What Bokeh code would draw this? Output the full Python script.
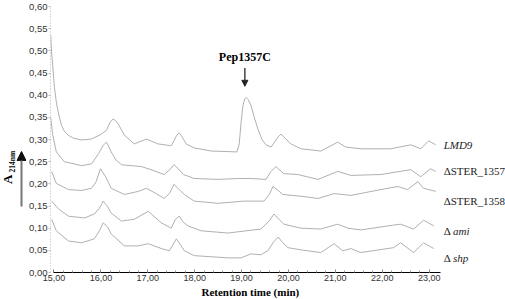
import numpy as np
from bokeh.plotting import figure
from bokeh.layouts import row
from bokeh.models import (Range1d, FixedTicker, CustomJSTickFormatter, Label, Arrow,
                          NormalHead, Title)
from bokeh.embed import file_html
from bokeh.resources import INLINE

# ---- data (retention time in min, absorbance) ----
time_lmd9 = [14.93,14.95,14.98,15.01,15.05,15.10,15.16,15.22,15.30,15.41,15.59,15.80,16.01,16.12,16.20,16.26,16.31,16.37,
             16.50,16.71,16.97,17.22,17.50,17.62,17.67,17.72,17.82,17.99,18.35,18.90,18.95,18.99,19.03,19.07,19.10,19.14,19.20,
             19.27,19.35,19.44,19.52,19.63,19.78,19.84,19.90,20.05,20.27,20.69,21.05,21.22,21.54,22.18,22.61,22.82,22.99,23.14]
abs_lmd9 = [0.535,0.495,0.457,0.417,0.384,0.357,0.332,0.319,0.310,0.303,0.299,0.301,0.312,0.321,0.340,0.346,0.343,0.335,
            0.310,0.290,0.301,0.290,0.286,0.310,0.315,0.308,0.290,0.281,0.274,0.272,0.290,0.339,0.377,0.392,0.395,0.390,0.377,
            0.350,0.323,0.299,0.288,0.283,0.306,0.312,0.306,0.290,0.279,0.274,0.294,0.283,0.279,0.279,0.288,0.279,0.297,0.288]

time_1357 = [14.93,14.97,15.05,15.22,15.59,15.80,15.95,16.05,16.12,16.22,16.32,16.44,16.86,17.07,17.35,17.47,
             17.56,17.65,17.76,17.99,18.50,18.93,19.20,19.52,19.63,19.73,19.90,20.20,20.63,21.05,21.33,21.97,
             22.61,22.82,23.03,23.14]
abs_1357 = [0.350,0.312,0.272,0.250,0.241,0.245,0.268,0.287,0.294,0.272,0.254,0.243,0.239,0.232,0.221,0.232,
            0.243,0.234,0.221,0.212,0.210,0.212,0.212,0.210,0.228,0.239,0.223,0.221,0.210,0.228,0.219,0.221,
            0.232,0.216,0.234,0.228]

time_1358 = [14.95,15.05,15.31,15.59,15.80,15.90,15.99,16.10,16.22,16.50,16.80,16.97,17.18,17.35,17.46,17.56,
             17.67,17.78,17.99,18.50,19.05,19.48,19.59,19.67,19.78,19.88,20.27,20.63,20.97,21.33,21.97,22.33,
             22.54,22.76,22.88,23.14]
abs_1358 = [0.228,0.201,0.187,0.185,0.190,0.205,0.234,0.216,0.190,0.176,0.183,0.190,0.178,0.167,0.178,0.199,
            0.187,0.176,0.161,0.156,0.161,0.161,0.176,0.194,0.185,0.176,0.172,0.167,0.178,0.174,0.187,0.194,
            0.187,0.205,0.190,0.183]

time_ami = [14.95,15.10,15.31,15.65,15.86,15.97,16.05,16.14,16.22,16.44,16.71,17.01,17.29,17.50,17.59,17.67,
            17.76,17.86,18.14,18.71,19.41,19.59,19.69,19.80,19.90,20.27,20.69,21.05,21.27,21.54,22.24,22.39,
            22.67,22.88,23.10]
abs_ami = [0.161,0.143,0.127,0.123,0.132,0.145,0.161,0.149,0.134,0.116,0.120,0.138,0.112,0.100,0.120,0.127,
           0.113,0.105,0.094,0.089,0.098,0.116,0.132,0.120,0.109,0.100,0.098,0.109,0.100,0.096,0.107,0.109,
           0.098,0.118,0.105]

time_shp = [14.95,15.05,15.31,15.59,15.86,15.97,16.05,16.14,16.22,16.50,16.80,17.01,17.29,17.46,17.61,17.78,
            17.99,18.71,18.99,19.20,19.41,19.56,19.67,19.78,19.88,19.99,20.27,20.69,20.97,21.16,21.33,21.54,
            22.24,22.39,22.67,22.88,23.10]
abs_shp = [0.120,0.094,0.071,0.067,0.076,0.094,0.112,0.103,0.087,0.060,0.060,0.065,0.054,0.049,0.076,0.049,
           0.038,0.033,0.033,0.042,0.040,0.049,0.067,0.080,0.067,0.056,0.051,0.045,0.065,0.049,0.054,0.045,
           0.056,0.067,0.045,0.067,0.054]

x_ticks = [15, 16, 17, 18, 19, 20, 21, 22, 23]
y_ticks = [0.00, 0.05, 0.10, 0.15, 0.20, 0.25, 0.30, 0.35, 0.40, 0.45, 0.50, 0.55, 0.60]
x_minor = [round(15 + 0.2 * i, 2) for i in range(1, 41)]

peak_name = "Pep1357C"
peak_time = 19.07
peak_abs = 0.395

strain_labels = [
    ([("LMD9", "italic")], 0.2865),
    ([("\u0394STER_1357", "normal")], 0.228),
    ([("\u0394STER_1358", "normal")], 0.1624),
    ([("\u0394", "normal"), ("ami", "italic")], 0.0925),
    ([("\u0394", "normal"), ("shp", "italic")], 0.0338),
]

series = [(time_lmd9, abs_lmd9), (time_1357, abs_1357), (time_1358, abs_1358),
          (time_ami, abs_ami), (time_shp, abs_shp)]

TOP, BOTTOM = 6, 27

# ---------- left strip: y-axis title with arrow ----------
pl = figure(width=26, height=299, output_backend="svg", toolbar_location=None,
            x_range=Range1d(0, 26), y_range=Range1d(0, 0.6),
            x_axis_location=None, y_axis_location=None,
            min_border_left=0, min_border_right=0, min_border_top=TOP, min_border_bottom=BOTTOM)
pl.grid.visible = False
pl.outline_line_color = None
pl.add_layout(Label(x=6.5, y=0.210, text="A", angle=np.pi / 2, text_align="center",
                    text_baseline="middle", text_font="Liberation Serif", text_font_style="bold",
                    text_font_size="13px", text_color="black"))
pl.add_layout(Label(x=11.8, y=0.2256, text="214nm", angle=np.pi / 2, text_align="left",
                    text_baseline="middle", text_font="Liberation Serif", text_font_style="bold",
                    text_font_size="7.5px", text_color="black"))
pl.add_layout(Arrow(end=NormalHead(size=9, fill_color="#111111", line_color="#111111"),
                    x_start=21, y_start=0.149, x_end=21, y_end=0.273,
                    line_color="#777777", line_width=2))

# ---------- main chromatogram panel ----------
p = figure(width=479, height=299, output_backend="svg", toolbar_location=None,
           x_range=Range1d(14.9255, 24.628), y_range=Range1d(0, 0.6),
           min_border_left=23, min_border_right=0, min_border_top=TOP, min_border_bottom=BOTTOM)
p.grid.visible = False
p.outline_line_color = None

for t, a in series:
    p.line(t, a, line_color="#b0b0b0", line_width=1, line_join="round")

fmt = CustomJSTickFormatter(code="return tick.toFixed(2).replace('.', ',');")

xa = p.xaxis[0]
xa.ticker = FixedTicker(ticks=x_ticks, minor_ticks=x_minor)
xa.formatter = fmt
xa.bounds = (15, 23.245)
xa.axis_line_color = "black"
xa.axis_line_width = 1
xa.major_tick_in = 3
xa.major_tick_out = 0
xa.minor_tick_in = 2
xa.minor_tick_out = 0
xa.major_tick_line_color = "#777777"
xa.minor_tick_line_color = "#999999"
xa.major_label_text_font = "Liberation Sans"
xa.major_label_text_font_size = "9px"
xa.major_label_text_color = "#333333"
xa.major_label_standoff = 2

ya = p.yaxis[0]
ya.ticker = FixedTicker(ticks=y_ticks)
ya.formatter = fmt
ya.bounds = (0, 0.6)
ya.axis_line_color = "#b5b5b5"
ya.axis_line_dash = "1 2"
ya.major_tick_out = 2
ya.major_tick_in = 0
ya.minor_tick_out = 0
ya.minor_tick_in = 0
ya.major_tick_line_color = "#bbbbbb"
ya.major_label_text_font = "Liberation Sans"
ya.major_label_text_font_size = "9.5px"
ya.major_label_text_color = "#333333"
ya.major_label_standoff = 1

p.add_layout(Title(text="Retention time (min)", align="left", offset=151, standoff=0,
                   text_font="Liberation Serif", text_font_style="bold",
                   text_font_size="11px", text_color="black"), "below")

# peak annotation
p.add_layout(Label(x=peak_time, y=peak_abs + 0.092, text=peak_name, text_align="center",
                   text_baseline="middle", text_font="Liberation Serif", text_font_style="bold",
                   text_font_size="12px", text_color="black"))
p.add_layout(Arrow(end=NormalHead(size=6, fill_color="#222222", line_color="#222222"),
                   x_start=peak_time, y_start=peak_abs + 0.066, x_end=peak_time, y_end=peak_abs + 0.025,
                   line_color="#444444", line_width=1.5))

# strain labels on the right
for pieces, yv in strain_labels:
    xpos = 23.309
    for txt, style in pieces:
        p.add_layout(Label(x=xpos, y=yv, text=txt, text_align="left", text_baseline="middle",
                           text_font="Liberation Serif", text_font_style=style,
                           text_font_size="11px", text_color="#222222"))
        xpos += 0.20

layout = row(pl, p)
open("out.html", "w").write(file_html(layout, INLINE))
